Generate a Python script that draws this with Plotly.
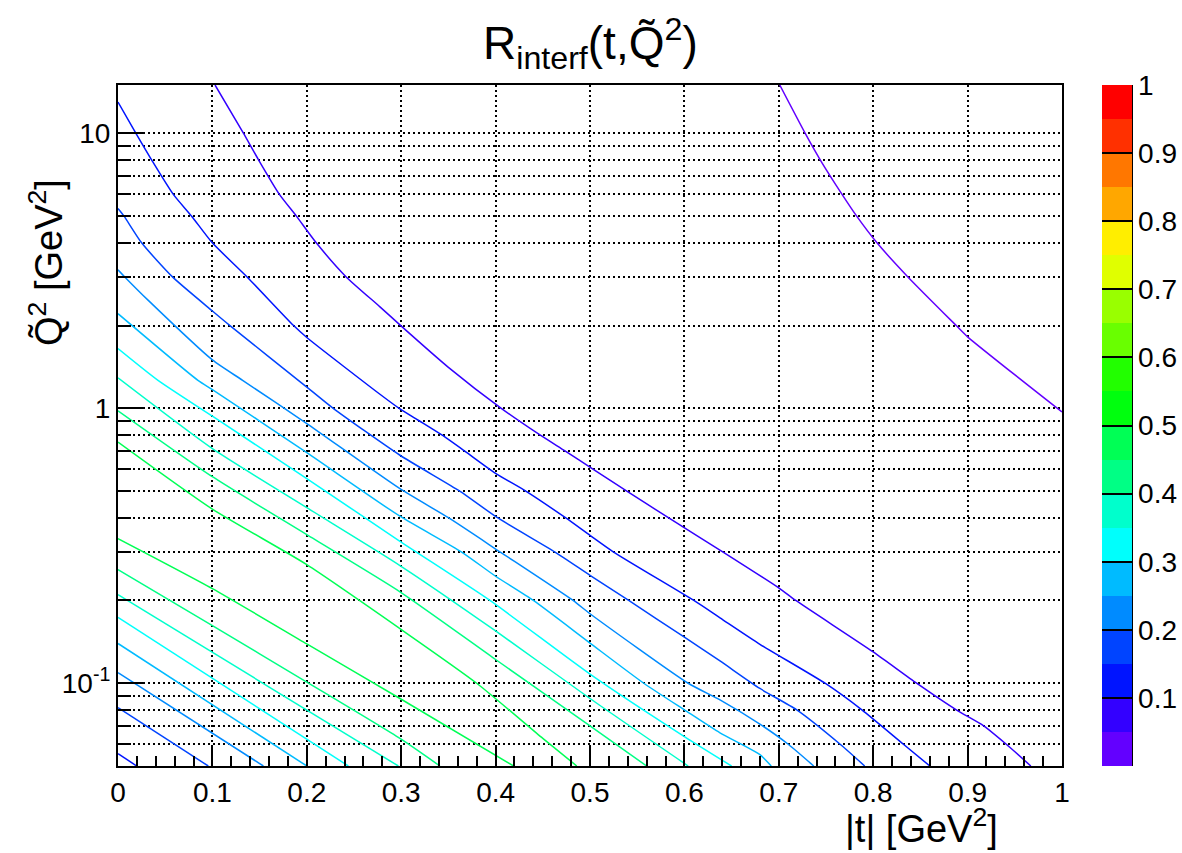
import math
import plotly.graph_objects as go

# ---------------------------------------------------------------------------
# Contour lines of R_interf(t, Q~^2): points (|t|, Q~^2)
# ---------------------------------------------------------------------------
t_A = [0.701, 0.728, 0.744, 0.767, 0.7825, 0.804, 0.837, 0.888, 0.9, 1.0]
q2_A = [15, 10, 8, 6, 5, 4, 3, 2, 1.82, 0.97]

t_B = [0.1028, 0.133, 0.149, 0.171, 0.189, 0.210, 0.242, 0.2775, 0.2995, 0.35, 0.406,
       0.447, 0.4735, 0.5035, 0.539, 0.583, 0.641, 0.701, 0.718, 0.8, 0.846, 0.888,
       0.917, 0.941, 0.967]
q2_B = [15, 10, 8, 6, 5, 4, 3, 2.34, 2.0, 1.41, 1.0,
        0.8, 0.7, 0.6, 0.5, 0.4, 0.3, 0.221, 0.2, 0.13, 0.1, 0.08,
        0.07, 0.06, 0.05]

t_C = [0, 0.019, 0.0357, 0.0586, 0.078, 0.0999, 0.137, 0.186, 0.2, 0.2775, 0.2987,
       0.318, 0.343, 0.367, 0.4, 0.432, 0.474, 0.5, 0.525, 0.61, 0.6377, 0.68, 0.749,
       0.788, 0.832, 0.86]
q2_C = [13.0, 10, 8, 6, 5, 4, 3, 2, 1.81, 1.125, 0.995,
        0.905, 0.8, 0.7, 0.58, 0.5, 0.4, 0.345, 0.3, 0.2, 0.173, 0.1386, 0.1,
        0.08, 0.06, 0.05]

t_D = [0, 0.0064, 0.025, 0.058, 0.1, 0.1186, 0.2, 0.228, 0.2987, 0.362,
       0.402, 0.463, 0.5, 0.541, 0.6, 0.6377, 0.68, 0.719, 0.765, 0.791]
q2_D = [5.33, 5, 4, 3, 2.26, 2, 1.195, 1.0, 0.675, 0.5,
        0.4, 0.3, 0.247, 0.2, 0.147, 0.1205, 0.0957, 0.08, 0.06, 0.05]

t_E = [0, 0.0074, 0.0321, 0.1, 0.132, 0.2, 0.2987, 0.35, 0.405, 0.482, 0.5,
       0.604, 0.6377, 0.68, 0.71, 0.737]
q2_E = [3.19, 3, 2.47, 1.50, 1.264, 0.88, 0.51, 0.4, 0.3, 0.2, 0.179,
        0.1, 0.087, 0.071, 0.06, 0.05]

t_F = [0, 0.0847, 0.1, 0.2, 0.2987, 0.364, 0.4, 0.44, 0.5, 0.557, 0.6, 0.6377,
       0.68, 0.692]
q2_F = [2.21, 1.264, 1.17, 0.69, 0.405, 0.3, 0.245, 0.2, 0.14, 0.1, 0.08, 0.066,
        0.055, 0.05]

t_G = [0, 0.0424, 0.1, 0.2, 0.2987, 0.394, 0.5, 0.6, 0.65]
q2_G = [1.65, 1.264, 0.936, 0.555, 0.328, 0.2, 0.108, 0.064, 0.05]

t_H = [0, 0.1, 0.2, 0.2987, 0.4, 0.5, 0.604]
q2_H = [1.29, 0.713, 0.435, 0.268, 0.155, 0.088, 0.05]

t_I = [0, 0.1, 0.2, 0.2987, 0.4, 0.5, 0.56]
q2_I = [0.98, 0.564, 0.347, 0.215, 0.122, 0.070, 0.05]

t_J = [0, 0.1, 0.2, 0.2987, 0.38, 0.45, 0.486]
q2_J = [0.754, 0.43, 0.27, 0.158, 0.1, 0.063, 0.05]

t_K = [0, 0.1, 0.2, 0.2987, 0.419]
q2_K = [0.336, 0.221, 0.139, 0.088, 0.05]

t_L = [0, 0.1, 0.2, 0.2987, 0.341]
q2_L = [0.259, 0.162, 0.101, 0.063, 0.05]

t_M = [0, 0.297]
q2_M = [0.210, 0.05]

t_N = [0, 0.244]
q2_N = [0.1736, 0.05]

t_O = [0, 0.200]
q2_O = [0.1395, 0.05]

t_P = [0, 0.154]
q2_P = [0.1093, 0.05]

t_Q = [0, 0.0956]
q2_Q = [0.0815, 0.05]

t_R = [0, 0.0198]
q2_R = [0.0555, 0.05]

# contour level of each line (R_interf value)
levels = [0.00, 0.05, 0.10, 0.15, 0.20, 0.25, 0.30, 0.35, 0.40, 0.45,
          0.45, 0.40, 0.35, 0.30, 0.25, 0.20, 0.15, 0.10]

# colour-bar ticks
cbar_tickvals = [0.1, 0.2, 0.3, 0.4, 0.5, 0.6, 0.7, 0.8, 0.9, 1.0]
cbar_ticktext = ["0.1", "0.2", "0.3", "0.4", "0.5", "0.6", "0.7", "0.8", "0.9", "1"]

# y-axis ticks
y_tickvals = [0.1, 1, 10]
y_ticktext = ["10<sup>-1</sup>", "1", "10"]
y_minorvals = [0.06, 0.07, 0.08, 0.09, 0.2, 0.3, 0.4, 0.5, 0.6, 0.7, 0.8, 0.9,
               2, 3, 4, 5, 6, 7, 8, 9]

# ---------------------------------------------------------------------------
# style
# ---------------------------------------------------------------------------
palette = ["#6300ff", "#3300ff", "#0014ff", "#0044ff", "#008bff", "#00bbff",
           "#00fffc", "#00ffcc", "#00ff85", "#00ff55", "#00ff0e", "#22ff00",
           "#69ff00", "#99ff00", "#e0ff00", "#ffee00", "#ffa700", "#ff7700",
           "#ff3000", "#ff0000"]
nband = len(palette)

colorscale = []
for k, c in enumerate(palette):
    colorscale.append([k / nband, c])
    colorscale.append([(k + 1) / nband, c])

FONT = "Liberation Sans, Arial, Helvetica, sans-serif"
TICKSIZE = 28

lines = [(t_A, q2_A), (t_B, q2_B), (t_C, q2_C), (t_D, q2_D), (t_E, q2_E),
         (t_F, q2_F), (t_G, q2_G), (t_H, q2_H), (t_I, q2_I), (t_J, q2_J),
         (t_K, q2_K), (t_L, q2_L), (t_M, q2_M), (t_N, q2_N), (t_O, q2_O),
         (t_P, q2_P), (t_Q, q2_Q), (t_R, q2_R)]

fig = go.Figure()

for (tx, qy), lev in zip(lines, levels):
    band = min(int(round(lev / (1.0 / nband))), nband - 1)
    fig.add_trace(go.Scatter(x=tx, y=qy, mode="lines",
                             line=dict(color=palette[band], width=1.5,
                                       shape="spline", smoothing=0.6),
                             showlegend=False, hoverinfo="skip"))

# colour bar (palette 0..1)
L, R, T, B = 118, 120, 85, 87
W, H = 1182, 853
pw = W - L - R
ph = H - T - B
cb_left = (1102 - L) / pw
cb_thick = 30
fig.add_trace(go.Scatter(
    x=[0.5], y=[1], mode="markers",
    marker=dict(size=1, opacity=0, color=[0.5], cmin=0, cmax=1,
                colorscale=colorscale, showscale=True,
                colorbar=dict(x=cb_left, xanchor="left", y=0.5, yanchor="middle",
                              len=1.0, lenmode="fraction",
                              thickness=cb_thick, thicknessmode="pixels",
                              xpad=0, ypad=0, outlinewidth=0,
                              tickmode="array", tickvals=cbar_tickvals,
                              ticktext=cbar_ticktext, ticks="inside",
                              ticklen=cb_thick, tickwidth=2, tickcolor="black",
                              tickfont=dict(size=TICKSIZE, family=FONT, color="black"))),
    showlegend=False, hoverinfo="skip"))

grid_dash = "2px,3px"
GW = 1.5

fig.update_layout(
    width=W, height=H,
    margin=dict(l=L, r=R, t=T, b=B, autoexpand=False),
    paper_bgcolor="white", plot_bgcolor="white",
    font=dict(family=FONT, color="black", size=TICKSIZE),
    showlegend=False,
    xaxis=dict(range=[0, 1], tick0=0, dtick=0.1,
               ticks="inside", ticklen=20, tickwidth=1.5, tickcolor="black",
               showline=True, linecolor="black", linewidth=2, mirror=True,
               showgrid=True, gridcolor="black", gridwidth=GW, griddash=grid_dash,
               zeroline=False,
               minor=dict(tick0=0, dtick=0.02, ticks="inside", ticklen=10,
                          tickwidth=1.5, tickcolor="black", showgrid=False),
               tickfont=dict(size=TICKSIZE, family=FONT, color="black")),
    yaxis=dict(type="log", range=[math.log10(0.05), math.log10(15)],
               tickmode="array", tickvals=y_tickvals, ticktext=y_ticktext,
               ticks="inside", ticklen=27, tickwidth=1.5, tickcolor="black",
               showline=True, linecolor="black", linewidth=2, mirror=True,
               showgrid=True, gridcolor="black", gridwidth=GW, griddash=grid_dash,
               zeroline=False,
               minor=dict(tickmode="array", tickvals=y_minorvals, ticks="inside",
                          ticklen=13, tickwidth=1.5, tickcolor="black",
                          showgrid=True, gridcolor="black", gridwidth=GW,
                          griddash=grid_dash),
               tickfont=dict(size=TICKSIZE, family=FONT, color="black")),
    shapes=[dict(type="line", xref="paper", yref="paper",
                 x0=cb_left + cb_thick / pw, x1=cb_left + cb_thick / pw,
                 y0=0, y1=1, line=dict(color="black", width=2))],
    annotations=[
        dict(text="R<sub>interf</sub>(t,Q\u0303<sup>2</sup>)", xref="paper", yref="paper",
             x=0.5, y=1 + 41 / ph, xanchor="center", yanchor="middle",
             showarrow=False, font=dict(size=46, family=FONT, color="black")),
        dict(text="|t| [GeV<sup>2</sup>]", xref="paper", yref="paper",
             x=(1000 - L) / pw, y=-(826 - (H - B)) / ph, xanchor="right", yanchor="middle",
             showarrow=False, font=dict(size=38, family=FONT, color="black")),
        dict(text="Q\u0303<sup>2</sup> [GeV<sup>2</sup>]", xref="paper", yref="paper",
             x=(46 - L) / pw, y=((H - B) - 263) / ph, xanchor="center", yanchor="middle",
             textangle=-90, showarrow=False,
             font=dict(size=38, family=FONT, color="black")),
    ],
)

fig.write_html("out.html")
